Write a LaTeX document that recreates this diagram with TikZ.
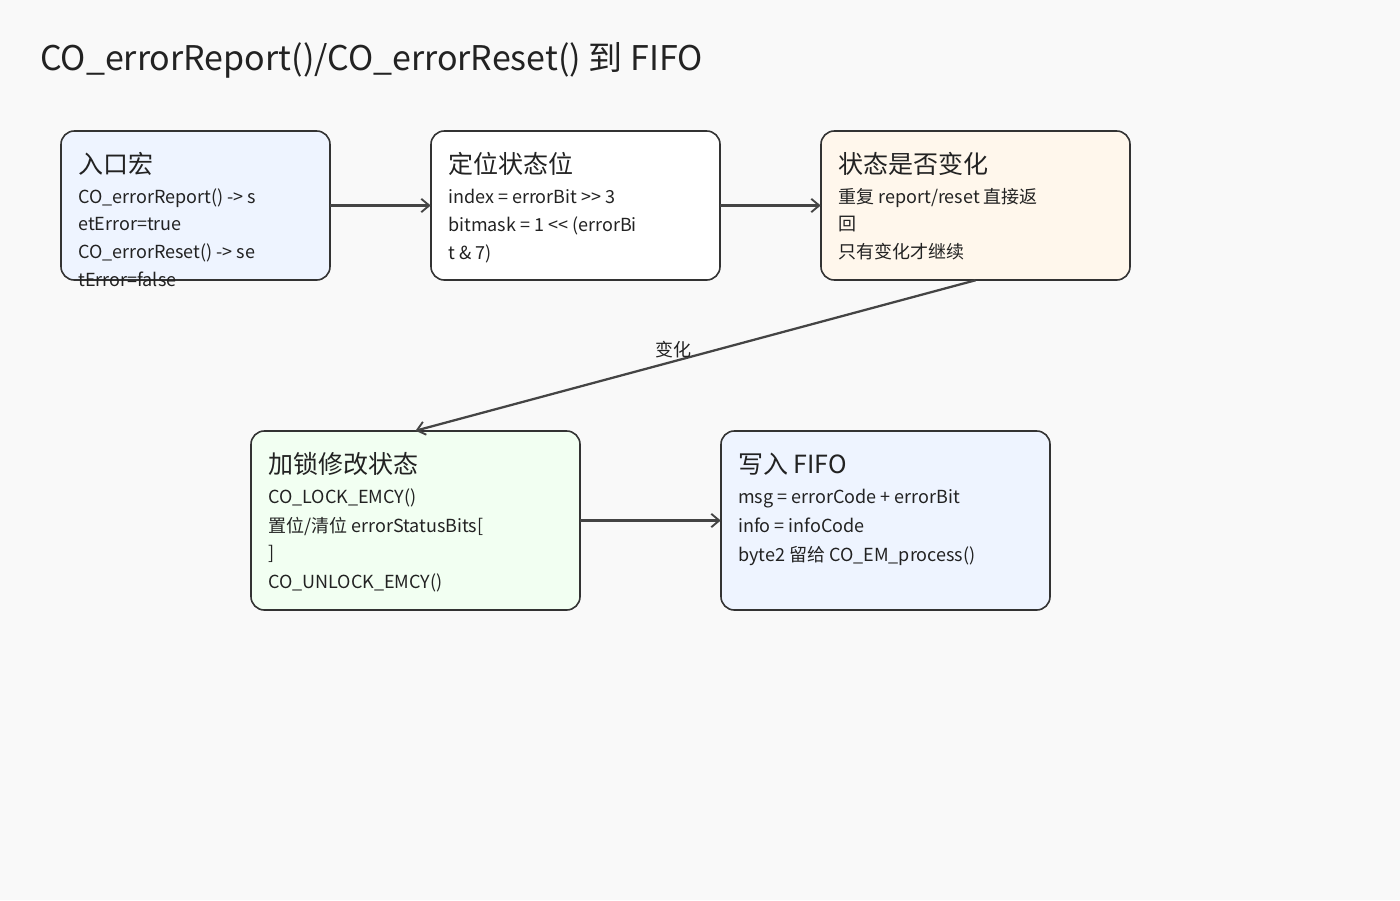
\documentclass[tikz,border=0pt]{standalone}
\usepackage{fontspec}
\setmainfont{Noto Sans CJK SC}
\usetikzlibrary{arrows.meta}
\definecolor{bg}{HTML}{F9F9F9}
\definecolor{edge}{HTML}{333333}
\definecolor{lnk}{HTML}{444444}
\definecolor{fblue}{HTML}{EEF4FF}
\definecolor{forange}{HTML}{FFF7EC}
\definecolor{fgreen}{HTML}{F2FFF2}
\definecolor{txt}{HTML}{222222}
\tikzset{
  box/.style={draw=edge, line width=1.2pt, rounded corners=10pt},
  ttl/.style={anchor=base west, inner sep=0pt, font=\fontsize{18.75}{22}\selectfont, text=txt},
  ln/.style={anchor=base west, inner sep=0pt, font=\fontsize{13.5}{16}\selectfont, text=txt},
  conn/.style={draw=lnk, line width=1.7pt, -{Straight Barb[length=6pt,width=10pt,line width=1.4pt]}},
}
\begin{document}
\begin{tikzpicture}[x=0.75pt,y=-0.75pt]
\fill[bg] (0,0) rectangle (1400,900);
\useasboundingbox (0,0) rectangle (1400,900);
\node[anchor=base west, inner sep=0pt, font=\fontsize{25.5}{30}\selectfont, text=txt] (title) at (40,70) {CO\_errorReport()/CO\_errorReset() 到 FIFO};

% boxes
\path[box, fill=fblue] (61,131) rectangle (330,280);
\path[box, fill=white] (431,131) rectangle (720,280);
\path[box, fill=forange] (821,131) rectangle (1130,280);
\path[box, fill=fgreen] (251,431) rectangle (580,610);
\path[box, fill=fblue] (721,431) rectangle (1050,610);

\node[inner sep=0pt, minimum width=269*0.75pt, minimum height=149*0.75pt] (a) at (195.5,205.5) {};
\node[inner sep=0pt, minimum width=289*0.75pt, minimum height=149*0.75pt] (b) at (575.5,205.5) {};
\node[inner sep=0pt, minimum width=309*0.75pt, minimum height=149*0.75pt] (c) at (975.5,205.5) {};
\node[inner sep=0pt, minimum width=329*0.75pt, minimum height=179*0.75pt] (d) at (415.5,520.5) {};
\node[inner sep=0pt, minimum width=329*0.75pt, minimum height=179*0.75pt] (e) at (885.5,520.5) {};

% box A
\node[ttl] (a0) at (78,173) {入口宏};
\node[ln] (a1) at (78,203) {CO\_errorReport() -{}> s};
\node[ln] (a2) at (78,230) {etError=true};
\node[ln] (a3) at (78,258) {CO\_errorReset() -{}> se};
\node[ln] (a4) at (78,286) {tError=false};
% box B
\node[ttl] (b0) at (448,173) {定位状态位};
\node[ln] (b1) at (448,203) {index = errorBit >{}> 3};
\node[ln] (b2) at (448,231) {bitmask = 1 <{}< (errorBi};
\node[ln] (b3) at (448,259) {t \& 7)};
% box C
\node[ttl] (c0) at (838,173) {状态是否变化};
\node[ln] (c1) at (838,203) {重复 report/reset 直接返};
\node[ln] (c2) at (838,230) {回};
\node[ln] (c3) at (838,258) {只有变化才继续};
% box D
\node[ttl] (d0) at (268,473) {加锁修改状态};
\node[ln] (d1) at (268,503) {CO\_LOCK\_EMCY()};
\node[ln] (d2) at (268,532) {置位/清位 errorStatusBits[};
\node[ln] (d3) at (268,559) {]};
\node[ln] (d4) at (268,588) {CO\_UNLOCK\_EMCY()};
% box E
\node[ttl] (e0) at (738,473) {写入 FIFO};
\node[ln] (e1) at (738,503) {msg = errorCode + errorBit};
\node[ln] (e2) at (738,532) {info = infoCode};
\node[ln] (e3) at (738,561) {byte2 留给 CO\_EM\_process()};

% connectors
\draw[conn] (a.east) -- (b.west);
\draw[conn] (b.east) -- (c.west);
\draw[conn] (c.south) -- node[pos=0.54, above, inner sep=2pt, font=\fontsize{13.5}{16}\selectfont, text=txt] (lbl) {变化} (d.north);
\draw[conn] (d.east) -- (e.west);
\end{tikzpicture}
\end{document}
